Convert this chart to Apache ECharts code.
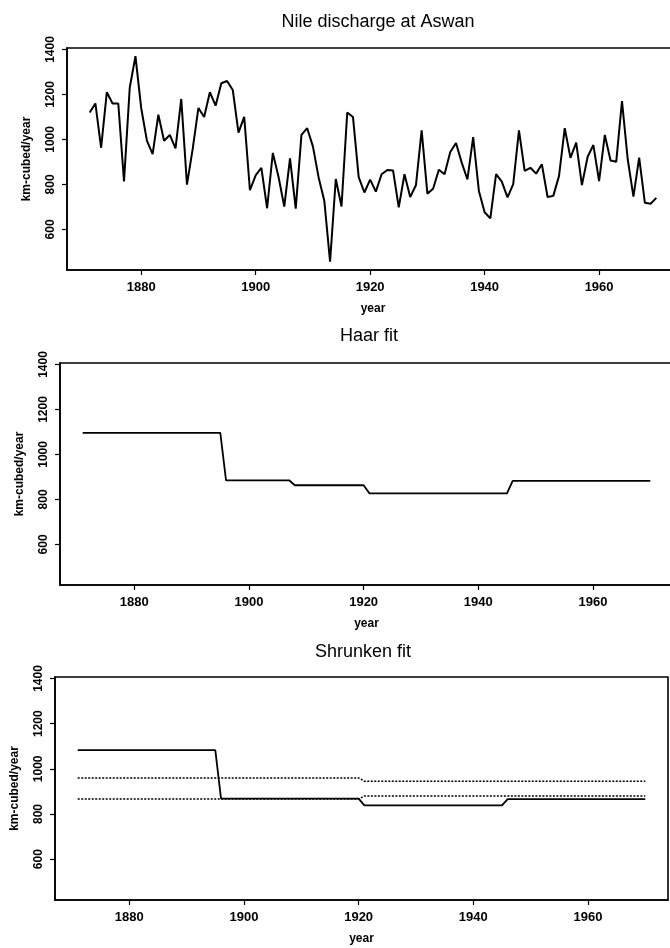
<!DOCTYPE html>
<html>
<head>
<meta charset="utf-8">
<script src="https://cdn.jsdelivr.net/npm/echarts@6/dist/echarts.min.js"></script>
<style>
html,body{margin:0;padding:0;background:#fff;}
#chart{width:670px;height:948px;}
</style>
</head>
<body>
<div id="chart"></div>
<script>
// ---- data ----
const years = [1871,1872,1873,1874,1875,1876,1877,1878,1879,1880,
  1881,1882,1883,1884,1885,1886,1887,1888,1889,1890,
  1891,1892,1893,1894,1895,1896,1897,1898,1899,1900,
  1901,1902,1903,1904,1905,1906,1907,1908,1909,1910,
  1911,1912,1913,1914,1915,1916,1917,1918,1919,1920,
  1921,1922,1923,1924,1925,1926,1927,1928,1929,1930,
  1931,1932,1933,1934,1935,1936,1937,1938,1939,1940,
  1941,1942,1943,1944,1945,1946,1947,1948,1949,1950,
  1951,1952,1953,1954,1955,1956,1957,1958,1959,1960,
  1961,1962,1963,1964,1965,1966,1967,1968,1969,1970];
const discharge = [1120,1160,963,1210,1160,1160,813,1230,1370,1140,
  995,935,1110,994,1020,960,1180,799,958,1140,
  1100,1210,1150,1250,1260,1220,1030,1100,774,840,
  874,694,940,833,701,916,692,1020,1050,969,
  831,726,456,824,702,1120,1100,832,764,821,
  768,845,864,862,698,845,744,796,1040,759,
  781,865,845,944,984,897,822,1010,771,676,
  649,846,812,742,801,1040,860,874,848,890,
  744,749,838,1050,918,986,797,923,975,815,
  1020,906,901,1170,912,746,919,718,714,740];

const haarYears  = [1871,1895,1896,1907,1908,1920,1921,1945,1946,1970];
const haarValues = [1096,1096,885,885,863,863,827,827,882,882];

const shrunkYears  = [1871,1895,1896,1920,1921,1945,1946,1970];
const shrunkValues = [1083,1083,868,868,838,838,866,866];

const bandYears  = [1871,1920,1921,1970];
const upperBand  = [960,960,945,945];
const lowerBand  = [866,866,880,880];

const xTicks = [1880,1900,1920,1940,1960];
const yTicks = [600,800,1000,1200,1400];
const titles = ['Nile discharge at Aswan','Haar fit','Shrunken fit'];
const xName = 'year';
const yName = 'km-cubed/year';

// ---- chart ----
const FONT = "'Liberation Sans', Arial, Helvetica, sans-serif";
const panels = [
  {left:67, top:48, width:612, height:222, titleX:378, titleY:13},
  {left:60, top:363, width:613, height:222, titleX:369, titleY:327},
  {left:55, top:677, width:613, height:223, titleX:363, titleY:643}
];
const pairs = (xs, ys) => xs.map((x, i) => [x, ys[i]]);
const plain = v => String(v);

const grid = [], xAxis = [], yAxis = [], title = [];
panels.forEach((p, i) => {
  grid.push({left:p.left, top:p.top, width:p.width, height:p.height,
    show:true, borderColor:'#000', borderWidth:1.6, backgroundColor:'transparent',
    containLabel:false, outerBoundsMode:'none'});
  title.push({text:titles[i], left:p.titleX, top:p.titleY, textAlign:'center', padding:0,
    textStyle:{fontFamily:FONT, fontSize:18, fontWeight:'normal', color:'#000'}});
  xAxis.push({type:'value', gridIndex:i, min:1867.04, max:1973.96,
    name:xName, nameLocation:'middle', nameGap:33,
    nameTextStyle:{fontFamily:FONT, fontSize:12, fontWeight:'bold', color:'#000'},
    axisLine:{show:true, lineStyle:{color:'#000', width:1.6}},
    axisTick:{show:true, inside:false, length:5, customValues:xTicks, lineStyle:{color:'#000', width:1.2}},
    axisLabel:{show:true, customValues:xTicks, formatter:plain, margin:11, fontFamily:FONT, fontSize:13, fontWeight:'bold', color:'#000'},
    splitLine:{show:false}});
  yAxis.push({type:'value', gridIndex:i, min:419.4, max:1406.6,
    name:yName, nameLocation:'middle', nameGap:34, nameRotate:90,
    nameTextStyle:{fontFamily:FONT, fontSize:12, fontWeight:'bold', color:'#000'},
    axisLine:{show:true, lineStyle:{color:'#000', width:1.6}},
    axisTick:{show:true, inside:false, length:5, customValues:yTicks, lineStyle:{color:'#000', width:1.2}},
    axisLabel:{show:true, customValues:yTicks, formatter:plain, rotate:90, margin:10, fontFamily:FONT, fontSize:12, fontWeight:'bold', color:'#000'},
    splitLine:{show:false}});
});

const lineSeries = (idx, data, style) => ({
  type:'line', xAxisIndex:idx, yAxisIndex:idx, data:data,
  showSymbol:false, symbol:'none', animation:false, silent:true,
  lineStyle:Object.assign({color:'#000', width:1.8}, style || {})
});

const series = [
  lineSeries(0, pairs(years, discharge), {width:2}),
  lineSeries(1, pairs(haarYears, haarValues), {width:1.8}),
  lineSeries(2, pairs(shrunkYears, shrunkValues), {width:1.8}),
  lineSeries(2, pairs(bandYears, upperBand), {width:1.5, type:[2,1.5]}),
  lineSeries(2, pairs(bandYears, lowerBand), {width:1.5, type:[2,1.5]})
];

const chart = echarts.init(document.getElementById('chart'), null, {renderer:'canvas'});
chart.setOption({backgroundColor:'#fff', animation:false, title, grid, xAxis, yAxis, series});
</script>
</body>
</html>
